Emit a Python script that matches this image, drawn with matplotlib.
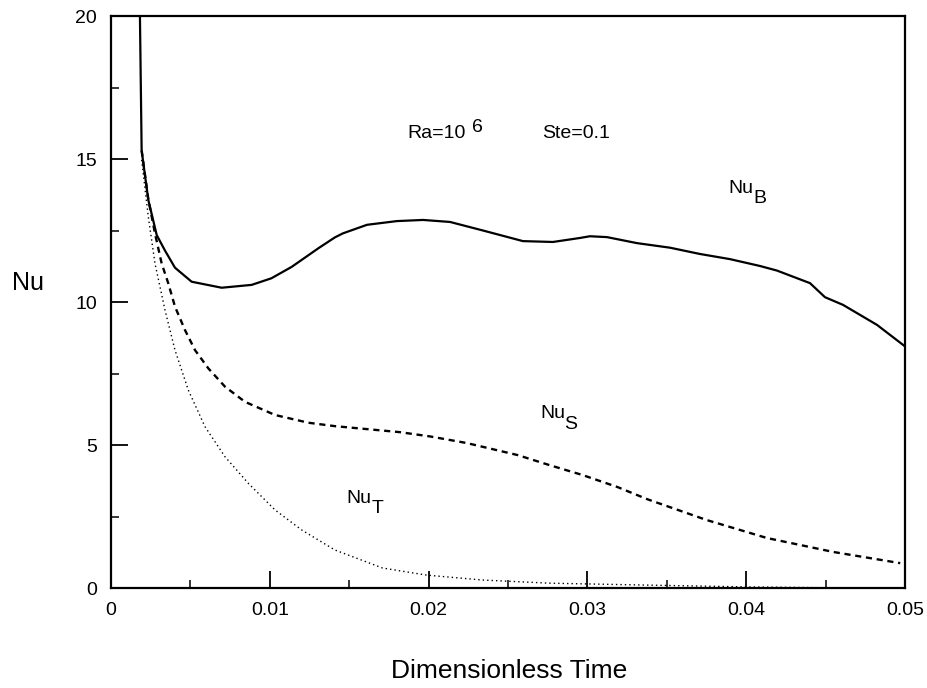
import matplotlib
matplotlib.use("Agg")
import matplotlib.pyplot as plt
from matplotlib.ticker import MultipleLocator

# Nu_B (solid)
t_b = [0.00180, 0.00193, 0.00235, 0.00288, 0.00340, 0.00403, 0.00508, 0.00697,
       0.00886, 0.0101, 0.01138, 0.01306, 0.0141, 0.0146, 0.01612, 0.0180,
       0.01965, 0.02135, 0.02343, 0.02594, 0.02783, 0.02953, 0.03016, 0.03123,
       0.03312, 0.0352, 0.03709, 0.03898, 0.04087, 0.04194, 0.04402, 0.04496,
       0.0461, 0.04824, 0.0500]
nu_b = [21.0, 15.3, 13.57, 12.34, 11.8, 11.2, 10.71, 10.5,
        10.6, 10.83, 11.23, 11.88, 12.26, 12.4, 12.7, 12.83,
        12.87, 12.8, 12.5, 12.13, 12.1, 12.24, 12.3, 12.27,
        12.06, 11.9, 11.68, 11.5, 11.26, 11.1, 10.66, 10.17,
        9.9, 9.2, 8.45]

# Nu_S (dashed)
t_s = [0.00193, 0.00235, 0.00277, 0.00319, 0.00361, 0.00403, 0.00466, 0.00529,
       0.00613, 0.00718, 0.00844, 0.01033, 0.01243, 0.0141, 0.0182, 0.0201,
       0.0224, 0.0256, 0.0276, 0.0297, 0.0319, 0.0338, 0.0375, 0.0413,
       0.0455, 0.0497]
nu_s = [15.3, 13.6, 12.4, 11.35, 10.65, 9.84, 9.02, 8.32,
        7.68, 7.04, 6.51, 6.05, 5.78, 5.66, 5.45, 5.3,
        5.07, 4.65, 4.3, 3.95, 3.53, 3.1, 2.38, 1.75,
        1.26, 0.87]

# Nu_T (dotted)
t_t = [0.00193, 0.00235, 0.00277, 0.00340, 0.00403, 0.00487, 0.00592, 0.00718,
       0.00865, 0.01033, 0.01201, 0.0141, 0.0171, 0.0199, 0.0234, 0.0276,
       0.0340, 0.0400, 0.0450, 0.0500]
nu_t = [14.97, 12.98, 11.35, 9.72, 8.32, 6.92, 5.64, 4.59,
        3.66, 2.73, 2.03, 1.33, 0.7, 0.45, 0.28, 0.17,
        0.1, 0.04, 0.01, 0.0]

x_ticks = [0, 0.01, 0.02, 0.03, 0.04, 0.05]
x_tick_labels = ["0", "0.01", "0.02", "0.03", "0.04", "0.05"]

fig = plt.figure(figsize=(9.28, 6.88), dpi=100)
ax = fig.add_axes([0.1196, 0.1453, 0.8556, 0.8314])

ax.plot(t_b, nu_b, color="black", linewidth=1.6, linestyle="-")
ax.plot(t_s, nu_s, color="black", linewidth=1.7, linestyle=(0, (2.6, 2.0)))
ax.plot(t_t, nu_t, color="black", linewidth=1.0, linestyle=(0, (1, 2.2)))

ax.set_xlim(0, 0.05)
ax.set_ylim(0, 20)
ax.set_xticks(x_ticks)
ax.set_xticklabels(x_tick_labels)
ax.xaxis.set_minor_locator(MultipleLocator(0.005))
ax.yaxis.set_major_locator(MultipleLocator(5))
ax.yaxis.set_minor_locator(MultipleLocator(2.5))
ax.tick_params(which="major", direction="in", length=12, width=1.3,
               labelsize=14, pad=10)
ax.tick_params(which="minor", direction="in", length=6, width=1.1)
for lab in ax.get_xticklabels() + ax.get_yticklabels():
    lab.set_fontfamily("Liberation Sans")
for sp in ax.spines.values():
    sp.set_linewidth(1.6)

font = dict(family="Liberation Sans", color="black")
fig.text(0.549, 0.0145, "Dimensionless Time", ha="center", va="baseline",
         fontsize=19, **font)
fig.text(0.030, 0.578, "Nu", ha="center", va="baseline", fontsize=18, **font)

# annotations (same-size super/subscripts, as in the original)
ax.text(0.01864, 15.73, "Ra=10", fontsize=14, **font)
ax.text(0.02273, 15.95, "6", fontsize=14, **font)
ax.text(0.02714, 15.73, "Ste=0.1", fontsize=14, **font)
ax.text(0.03885, 13.81, "Nu", fontsize=14, **font)
ax.text(0.04045, 13.45, "B", fontsize=14, **font)
ax.text(0.02702, 5.94, "Nu", fontsize=14, **font)
ax.text(0.02855, 5.56, "S", fontsize=14, **font)
ax.text(0.0148, 2.97, "Nu", fontsize=14, **font)
ax.text(0.01640, 2.62, "T", fontsize=14, **font)

fig.savefig("out.png", dpi=100)
